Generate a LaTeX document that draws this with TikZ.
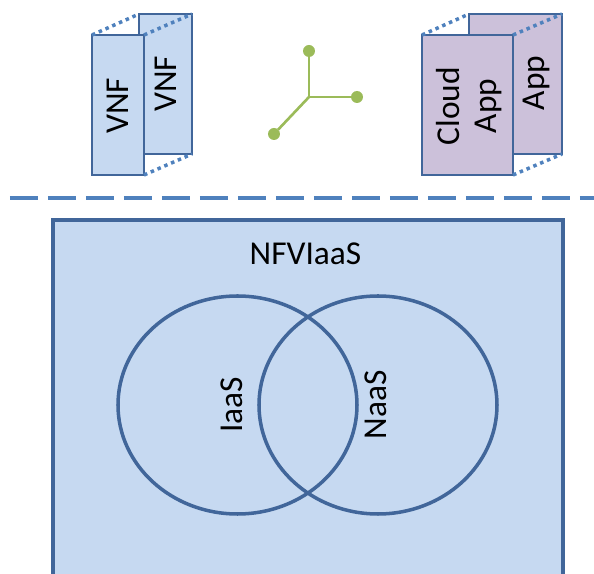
\documentclass[tikz,border=0pt]{standalone}
\usepackage{fontspec}
\setmainfont{Carlito}
\definecolor{boxline}{HTML}{41669A}
\definecolor{boxblue}{HTML}{C6D9F1}
\definecolor{boxpurple}{HTML}{CCC1DA}
\definecolor{dashblue}{HTML}{4F81BD}
\definecolor{linkgreen}{HTML}{9BBB59}
\tikzset{
    vmbox/.style={draw=boxline, line width=1.3pt, fill=boxblue, inner sep=0pt, outer sep=0pt, minimum height=2.8cm},
    appbox/.style={vmbox, fill=boxpurple},
    vmlabel/.style={rotate=90, font=\fontsize{19}{19}\selectfont, inner sep=0pt},
    dotlink/.style={dashblue, line width=2pt, dash pattern=on 2pt off 2.2pt},
    hublink/.style={linkgreen, line width=1.5pt},
    hubdot/.style={circle, fill=linkgreen, minimum size=0.24cm, inner sep=0pt, outer sep=0pt}
}
\begin{document}
\begin{tikzpicture}
    \useasboundingbox (0,0) rectangle (11.88,11.48);
    \clip (0,0) rectangle (11.88,11.48);
    % top left
    \node[vmbox, minimum width=1.06cm] (vnfback) at (3.31,9.80) {};
    \node[vmbox, minimum width=1.04cm] (vnffront) at (2.36,9.38) {};
    \draw[dotlink] (vnffront.north west) -- (vnfback.north west);
    \draw[dotlink] (vnffront.north east) -- (vnfback.north east);
    \draw[dotlink] (vnffront.south east) -- (vnfback.south east);
    \node[vmlabel] (vnfa) at (2.36,9.36) {VNF};
    \node[vmlabel] (vnfb) at (3.32,9.80) {VNF};
    % top right
    \node[appbox, minimum width=1.86cm] (appback) at (10.31,9.80) {};
    \node[appbox, minimum width=1.82cm] (appfront) at (9.35,9.38) {};
    \draw[dotlink] (appfront.north west) -- (appback.north west);
    \draw[dotlink] (appfront.north east) -- (appback.north east);
    \draw[dotlink] (appfront.south east) -- (appback.south east);
    \node[vmlabel] (cloud) at (8.96,9.36) {Cloud};
    \node[vmlabel] (appa) at (9.76,9.36) {App};
    \node[vmlabel] (appb) at (10.72,9.82) {App};
    % three links
    \coordinate (hub) at (6.18,9.54);
    \node[hubdot] (hubn) at (6.18,10.46) {};
    \node[hubdot] (hube) at (7.14,9.54) {};
    \node[hubdot] (hubs) at (5.48,8.80) {};
    \draw[hublink] (hubn) -- (hub);
    \draw[hublink] (hube) -- (hub);
    \draw[hublink] (hubs) -- (hub);
    % divider
    \draw[dashblue, line width=2.6pt, dash pattern=on 0.56cm off 0.2cm] (0.2,7.52) -- (11.88,7.52);
    % lower block
    \draw[boxline, line width=1.9pt, fill=boxblue] (1.06,-0.5) rectangle (11.26,7.08);
    \node[font=\fontsize{19}{19}\selectfont, inner sep=0pt] (nfviaas) at (6.11,6.40) {NFVIaaS};
    \draw[boxline, line width=2pt] (4.75,3.38) ellipse (2.39cm and 2.18cm);
    \draw[boxline, line width=2pt] (7.56,3.38) ellipse (2.38cm and 2.18cm);
    \node[vmlabel] (iaas) at (4.64,3.38) {IaaS};
    \node[vmlabel] (naas) at (7.52,3.38) {NaaS};
\end{tikzpicture}
\end{document}
